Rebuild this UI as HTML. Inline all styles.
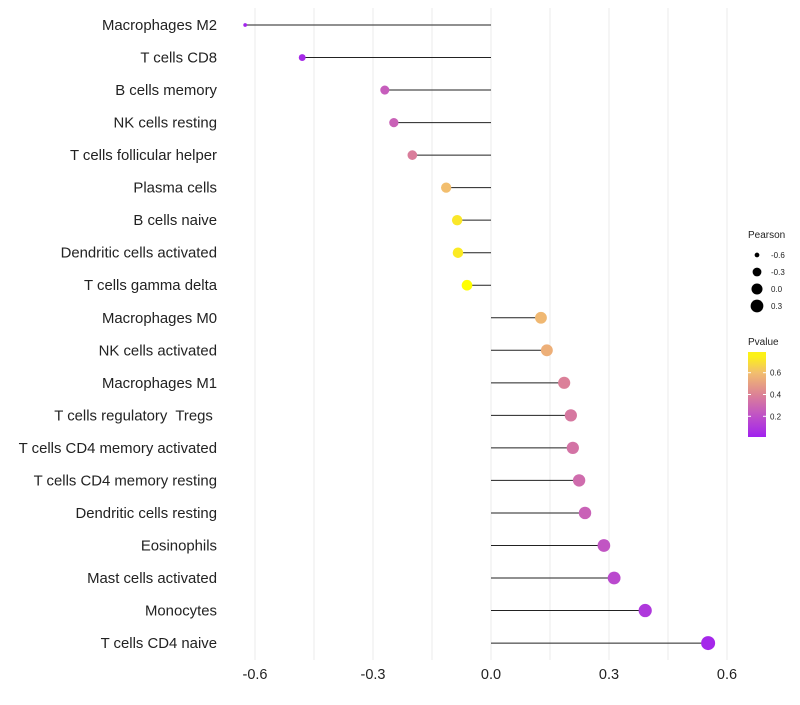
<!DOCTYPE html>
<html><head><meta charset="utf-8"><style>body{margin:0;background:#fff}svg{font-family:"Liberation Sans",sans-serif}text{white-space:pre}</style></head>
<body>
<svg id="c" width="800" height="700"></svg>
<script>
const categories=["Macrophages M2","T cells CD8","B cells memory","NK cells resting","T cells follicular helper","Plasma cells","B cells naive","Dendritic cells activated","T cells gamma delta","Macrophages M0","NK cells activated","Macrophages M1","T cells regulatory  Tregs ","T cells CD4 memory activated","T cells CD4 memory resting","Dendritic cells resting","Eosinophils","Mast cells activated","Monocytes","T cells CD4 naive"];
const pearson=[-0.625,-0.48,-0.27,-0.247,-0.2,-0.114,-0.086,-0.084,-0.061,0.127,0.142,0.186,0.203,0.208,0.224,0.239,0.287,0.313,0.392,0.552];
const pvalues=[0.02,0.04,0.25,0.27,0.38,0.6,0.72,0.73,0.79,0.58,0.55,0.39,0.36,0.34,0.31,0.27,0.22,0.17,0.1,0.03];
const xTicks=[-0.6,-0.3,0,0.3,0.6];
const xTickLabels=["-0.6","-0.3","0.0","0.3","0.6"];
const sizeLegend=[-0.6,-0.3,0,0.3];
const colorLegend=[0.2,0.4,0.6];
const NS="http://www.w3.org/2000/svg",svg=document.getElementById('c');
const x=v=>491+v*393.33, y=i=>25+i*32.53, r=v=>1.5+5.5*Math.sqrt(Math.max(0,(v+0.63)/1.18));
const stops=[[0,[160,32,240]],[0.2,[190,80,200]],[0.4,[220,130,150]],[0.6,[242,190,110]],[0.79,[255,255,0]]];
function col(p){for(let i=1;i<stops.length;i++){if(p<=stops[i][0]||i==stops.length-1){const a=stops[i-1],b=stops[i];let t=Math.max(0,Math.min(1,(p-a[0])/(b[0]-a[0])));return 'rgb('+a[1].map((c,k)=>Math.round(c+(b[1][k]-c)*t)).join(',')+')';}}}
function el(t,a,txt){const e=document.createElementNS(NS,t);for(const k in a)e.setAttribute(k,a[k]);if(txt!==undefined)e.textContent=txt;svg.appendChild(e);return e;}
for(let v=-0.6;v<=0.61;v+=0.15){const g=el('line',{x1:x(v),x2:x(v),y1:8,y2:660,stroke:'#ebebeb','stroke-width':1});}
xTicks.forEach((v,i)=>{const t=el('text',{x:x(v),y:679,'text-anchor':'middle','font-size':14.5,fill:'#222'},xTickLabels[i]);});
categories.forEach((c,i)=>{
const t=el('text',{x:217,y:y(i)+5,'text-anchor':'end','font-size':14.9,fill:'#222'},c);
const l=el('line',{x1:x(0),x2:x(pearson[i]),y1:y(i),y2:y(i),stroke:'#222','stroke-width':1});
const d=el('circle',{cx:x(pearson[i]),cy:y(i),r:r(pearson[i]),fill:col(pvalues[i])});
});
const t1=el('text',{x:748,y:238,'font-size':10,fill:'#222'},'Pearson');
sizeLegend.forEach((v,i)=>{const cy=255+i*17;const c=el('circle',{cx:757,cy:cy,r:r(v),fill:'#000'});
const t=el('text',{x:771,y:cy+3,'font-size':8,fill:'#222'},v.toFixed(1));});
const t2=el('text',{x:748,y:345,'font-size':10,fill:'#222'},'Pvalue');
const defs=el('defs',{});const lg=document.createElementNS(NS,'linearGradient');lg.setAttribute('id','g');lg.setAttribute('x1',0);lg.setAttribute('y1',1);lg.setAttribute('x2',0);lg.setAttribute('y2',0);defs.appendChild(lg);
for(let p=0;p<=0.79;p+=0.05){const s=document.createElementNS(NS,'stop');s.setAttribute('offset',(p-0.01)/0.78);s.setAttribute('stop-color',col(p));lg.appendChild(s);}
const yb=p=>437-(p-0.01)/0.78*85;
const bar=el('rect',{x:748,y:352,width:18,height:85,fill:'url(#g)'});
colorLegend.forEach(p=>{el('line',{x1:748,x2:751,y1:yb(p),y2:yb(p),stroke:'#fff'});el('line',{x1:763,x2:766,y1:yb(p),y2:yb(p),stroke:'#fff'});
const t=el('text',{x:770,y:yb(p)+3,'font-size':8,fill:'#222'},p.toFixed(1));});
</script>
</body></html>
